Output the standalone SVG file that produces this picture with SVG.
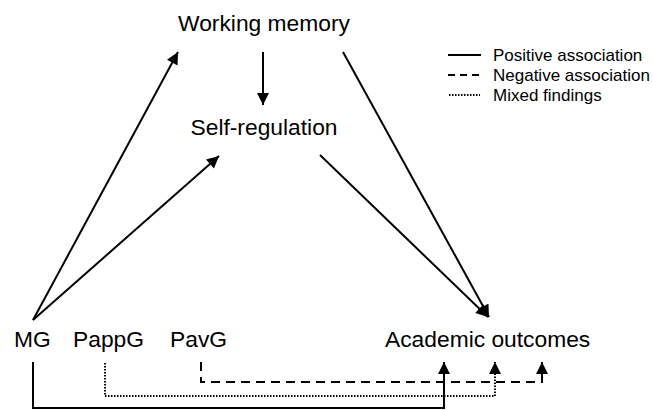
<svg xmlns="http://www.w3.org/2000/svg" width="653" height="410" viewBox="0 0 653 410">
<style>
text{font-family:"Liberation Sans",Arial,sans-serif;fill:#000}
.n{font-size:22.8px}
.lg{font-size:17px}
.s{fill:none;stroke:#000;stroke-width:2}
.d{fill:none;stroke:#000;stroke-width:2;stroke-dasharray:9 6}
.m{fill:none;stroke:#000;stroke-width:2;stroke-dasharray:1.5 1.5}
</style>
<defs>
<marker id="ah" viewBox="0 0 10 10" refX="10" refY="5" markerWidth="6.5" markerHeight="6" markerUnits="strokeWidth" orient="auto">
<path d="M0,0 L10,5 L0,10 z" fill="#000"/>
</marker>
</defs>
<rect width="653" height="410" fill="#fff"/>
<g id="wm"><text class="n" x="264" y="31" text-anchor="middle">Working memory</text></g>
<g id="sr"><text class="n" x="264" y="135" text-anchor="middle">Self-regulation</text></g>
<g id="mg"><text class="n" x="14" y="347">MG</text></g>
<g id="pappg"><text class="n" x="73" y="347">PappG</text></g>
<g id="pavg"><text class="n" x="170" y="347">PavG</text></g>
<g id="ao"><text class="n" x="385" y="347">Academic outcomes</text></g>
<g id="legend">
<line class="s" x1="448" y1="55" x2="481" y2="55"/>
<line x1="448" y1="75" x2="481" y2="75" stroke="#000" stroke-width="2" stroke-dasharray="7 5"/>
<line class="m" x1="449" y1="95" x2="480" y2="95"/>
<text class="lg" x="493" y="61">Positive association</text>
<text class="lg" x="493" y="81">Negative association</text>
<text class="lg" x="493" y="101">Mixed findings</text>
</g>
<g id="connectors">
<line class="s" x1="33" y1="320" x2="178" y2="52" marker-end="url(#ah)"/>
<line class="s" x1="33" y1="320" x2="219" y2="156" marker-end="url(#ah)"/>
<line class="s" x1="263" y1="52" x2="263" y2="105" marker-end="url(#ah)"/>
<line class="s" x1="343" y1="52" x2="489" y2="317" marker-end="url(#ah)"/>
<line class="s" x1="320" y1="155" x2="488" y2="317" marker-end="url(#ah)"/>
<polyline class="s" points="33,362 33,408 444,408 444,362" marker-end="url(#ah)"/>
<polyline class="m" points="105,363 105,396 495,396 495,362" marker-end="url(#ah)"/>
<polyline class="d" points="201,362 201,382 542,382 542,362" marker-end="url(#ah)"/>
</g>
</svg>
